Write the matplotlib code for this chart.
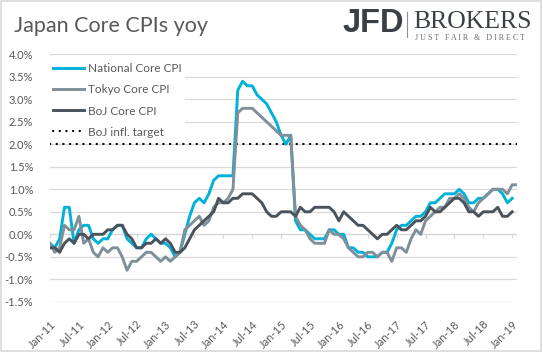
import numpy as np
import pandas as pd
import matplotlib
matplotlib.use("Agg")
import matplotlib.pyplot as plt
from matplotlib.patches import Rectangle

plt.rcParams['font.family'] = ['Lato', 'DejaVu Sans']

# monthly yoy, Jan-11 onwards (%)
national_core = [
    -0.2, -0.3, -0.1, 0.6, 0.6, -0.2, 0.1, 0.2, 0.2, -0.1, -0.2, -0.1,   # 2011
    -0.1, 0.1, 0.2, 0.2, -0.1, -0.2, -0.3, -0.3, -0.1, 0.0, -0.1, -0.2,  # 2012
    -0.2, -0.3, -0.5, -0.4, 0.0, 0.4, 0.7, 0.8, 0.7, 0.9, 1.2, 1.3,      # 2013
    1.3, 1.3, 1.3, 3.2, 3.4, 3.3, 3.3, 3.1, 3.0, 2.9, 2.7, 2.5,          # 2014
    2.2, 2.0, 2.2, 0.3, 0.1, 0.1, 0.0, -0.1, -0.1, -0.1, 0.1, 0.1,       # 2015
    0.0, 0.0, -0.3, -0.3, -0.4, -0.4, -0.5, -0.5, -0.5, -0.4, -0.4, -0.2,  # 2016
    0.1, 0.2, 0.2, 0.3, 0.4, 0.4, 0.5, 0.7, 0.7, 0.8, 0.9, 0.9,          # 2017
    0.9, 1.0, 0.9, 0.7, 0.7, 0.8, 0.8, 0.9, 1.0, 1.0, 0.9, 0.7,          # 2018
    0.8,                                                                 # 2019
]
tokyo_core = [
    -0.2, -0.4, -0.3, 0.2, 0.1, 0.1, 0.4, -0.2, -0.1, -0.4, -0.5, -0.3,
    -0.4, -0.3, -0.3, -0.5, -0.8, -0.6, -0.6, -0.5, -0.4, -0.4, -0.5, -0.6,
    -0.5, -0.6, -0.5, -0.4, 0.1, 0.2, 0.3, 0.4, 0.2, 0.3, 0.6, 0.7,
    0.7, 0.8, 1.0, 2.7, 2.8, 2.8, 2.8, 2.7, 2.6, 2.5, 2.4, 2.3,
    2.2, 2.2, 2.2, 0.4, 0.2, 0.1, -0.1, -0.2, -0.2, -0.2, 0.1, 0.0,
    0.0, -0.1, -0.3, -0.4, -0.5, -0.5, -0.4, -0.4, -0.5, -0.4, -0.4, -0.6,
    -0.3, -0.3, -0.4, -0.1, 0.1, 0.0, 0.3, 0.4, 0.5, 0.6, 0.6, 0.8,
    0.8, 0.9, 0.8, 0.6, 0.5, 0.7, 0.8, 0.9, 1.0, 1.0, 1.0, 0.9,
    1.1, 1.1,
]
boj_core = [
    -0.3, -0.3, -0.4, -0.2, -0.1, -0.2, 0.0, 0.0, -0.1, 0.0, 0.0, 0.0,
    0.1, 0.1, 0.2, 0.2, 0.0, -0.1, -0.3, -0.3, -0.2, -0.2, -0.1, -0.2,
    -0.1, -0.2, -0.4, -0.4, -0.3, -0.1, 0.1, 0.2, 0.3, 0.4, 0.5, 0.8,
    0.7, 0.7, 0.8, 0.8, 0.9, 0.9, 0.9, 0.8, 0.7, 0.5, 0.4, 0.4,
    0.5, 0.5, 0.5, 0.4, 0.6, 0.5, 0.5, 0.6, 0.6, 0.6, 0.6, 0.5,
    0.3, 0.5, 0.4, 0.3, 0.2, 0.2, 0.1, 0.0, -0.1, 0.0, 0.0, 0.1,
    0.2, 0.1, 0.1, 0.2, 0.3, 0.3, 0.4, 0.6, 0.5, 0.5, 0.6, 0.7,
    0.8, 0.8, 0.7, 0.5, 0.5, 0.4, 0.5, 0.5, 0.5, 0.6, 0.4, 0.4,
    0.5,
]
boj_target = 2.0
months = pd.date_range("2011-01-01", periods=len(tokyo_core), freq="MS")
tick_labels = [d.strftime("%b-%y") for d in months[::6]]

c_nat = "#00b2d9"
c_tok = "#7f9099"
c_boj = "#4a535c"
c_txt = "#595959"
c_grid = "#d9d9d9"

fig = plt.figure(figsize=(5.43, 3.52), dpi=100)
fig.patch.set_facecolor("white")
fig.add_artist(Rectangle((0.002, 0.003), 0.995, 0.994, transform=fig.transFigure,
                         fill=False, edgecolor=c_grid, linewidth=1.2))

W, H = 543.0, 352.0
ax = fig.add_axes([50 / W, 1 - 301.8 / H, 467 / W, (301.8 - 54.3) / H])

x = np.arange(len(months))
ax.plot(x[:len(national_core)], national_core, color=c_nat, lw=2.1, label="National Core CPI", zorder=3)
ax.plot(x[:len(tokyo_core)], tokyo_core, color=c_tok, lw=2.1, label="Tokyo Core CPI", zorder=4)
ax.plot(x[:len(boj_core)], boj_core, color=c_boj, lw=2.1, label="BoJ Core CPI", zorder=5)
ax.plot([x[0], x[-1]], [boj_target, boj_target], color="black", lw=1.6,
        linestyle=(0, (0.1, 2.9)), dash_capstyle="round", label="BoJ infl. target", zorder=2)

ax.set_xlim(0, len(months) - 1)
ax.set_ylim(-1.5, 4.0)
ax.set_yticks(np.arange(-1.5, 4.01, 0.5))
ax.set_yticklabels([f"{v:.1f}%" for v in np.arange(-1.5, 4.01, 0.5)])
ax.yaxis.grid(True, color=c_grid, lw=0.9)
ax.set_axisbelow(True)
for s in ax.spines.values():
    s.set_visible(False)
ax.tick_params(axis="y", length=0, pad=12, labelsize=8, labelcolor=c_txt)

# category axis crosses at 0 with small tick marks
ax.axhline(0, color=c_grid, lw=0.9, zorder=1)
ax.vlines(x[::6], -0.09, 0, color=c_grid, lw=0.9, zorder=1)
ax.set_xticks(x[::6])
ax.set_xticklabels(tick_labels, rotation=45, ha="right", va="top", rotation_mode="anchor")
ax.tick_params(axis="x", length=0, pad=12, labelsize=8, labelcolor=c_txt)

leg = ax.legend(loc="upper left", bbox_to_anchor=(44 / W, 1 - 54 / H), bbox_transform=fig.transFigure,
                frameon=True, facecolor="white", edgecolor="none", framealpha=1, fancybox=False,
                fontsize=8.5, handlelength=2.6, handletextpad=0.35, labelspacing=0.85, borderpad=0.3)
for t in leg.get_texts():
    t.set_color(c_txt)

fig.text(14 / W, 1 - 25.5 / H, "Japan Core CPIs yoy", fontsize=15.5, color=c_txt,
         va="center", ha="left")

# logo
fig.text(343 / W, 1 - 24 / H, "JFD", fontsize=23.5, fontweight="bold", color="#3b4046",
         family="Liberation Sans", va="center", ha="left")
fig.add_artist(plt.Line2D([407 / W, 407 / W], [1 - 12 / H, 1 - 37 / H], color="#8a8f94", lw=0.8))
fig.text(413 / W, 1 - 22.5 / H, "BROKERS", fontsize=18.5, color="#3b4046",
         family="Liberation Serif", va="center", ha="left")
fig.text(415 / W, 1 - 37.5 / H, "J U S T   F A I R   &   D I R E C T", fontsize=5.8, color="#6a6f74",
         family="Liberation Serif", va="center", ha="left")

fig.savefig("out.png", dpi=100, facecolor="white")
